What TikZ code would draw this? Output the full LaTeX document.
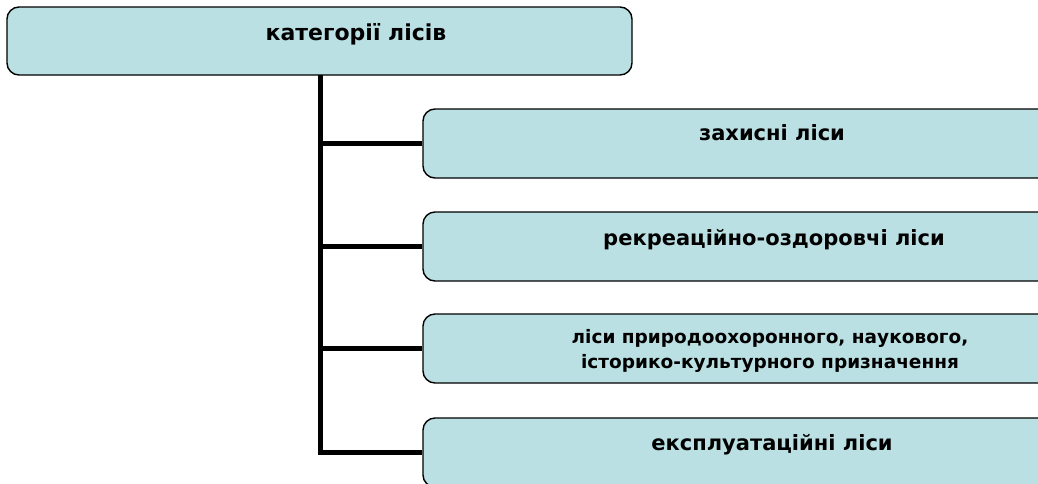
\documentclass[tikz,border=0pt]{standalone}
\usepackage{fontspec}
\setmainfont{DejaVu Sans}
\definecolor{boxfill}{RGB}{187,224,227}

\begin{document}
\begin{tikzpicture}[x=1pt, y=-1pt]
\tikzstyle{CatBox}=[shape = rectangle, rounded corners = 12pt, draw, line width = 1.4pt,
fill = boxfill, inner sep = 0pt, minimum height = 69pt]
\tikzstyle{CatText}=[inner sep = 0pt, anchor = base, font = \bfseries\fontsize{21}{25}\selectfont]
\tikzstyle{Trunk}=[line width = 5pt]
\useasboundingbox (0,0) rectangle (1038,483);
\node[CatBox, minimum width = 625pt, minimum height = 68pt] (cat) at (319.5,41) {};
\node[CatBox, minimum width = 640pt] (b1) at (743,143.5) {};
\node[CatBox, minimum width = 640pt] (b2) at (743,246.5) {};
\node[CatBox, minimum width = 640pt] (b3) at (743,348.5) {};
\node[CatBox, minimum width = 640pt] (b4) at (743,452.5) {};
\coordinate (stem) at (320,75);
\draw[Trunk] (stem) |- (b4.west);
\draw[Trunk] (stem |- b1.west) -- (b1.west);
\draw[Trunk] (stem |- b2.west) -- (b2.west);
\draw[Trunk] (stem |- b3.west) -- (b3.west);
\node[CatText, font = \bfseries\fontsize{22}{25}\selectfont] (catT) at (356,40) {категорії лісів};
\node[CatText] (t1) at (772,140) {захисні ліси};
\node[CatText] (t2) at (774,245) {рекреаційно-оздоровчі ліси};
\node[CatText, anchor = center, align = center, font = \bfseries\fontsize{18.5}{25}\selectfont] (t3) at (770,351) {ліси природоохоронного, наукового,\\історико-культурного призначення};
\node[CatText] (t4) at (772,450) {експлуатаційні ліси};
\end{tikzpicture}
\end{document}
